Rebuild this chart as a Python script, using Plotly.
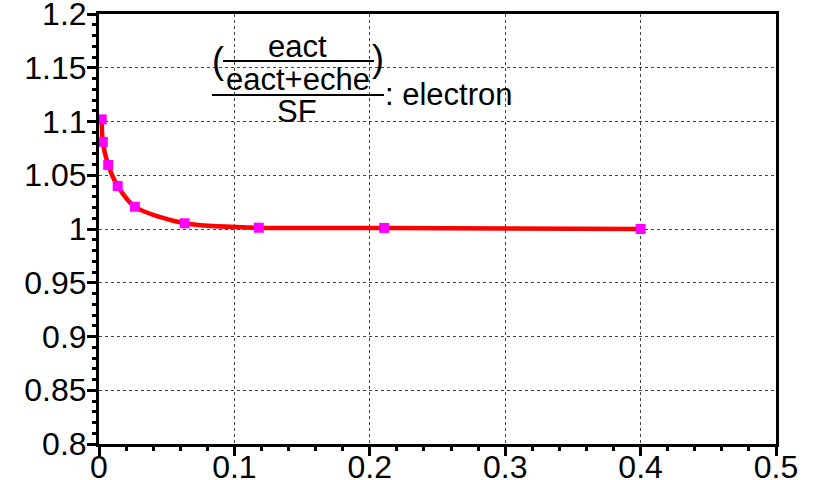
import plotly.graph_objects as go

# data
x_vals = [0.002, 0.0028, 0.0068, 0.0138, 0.0265, 0.0633, 0.118, 0.2106, 0.400]
y_vals = [1.102, 1.081, 1.0595, 1.040, 1.0207, 1.0053, 1.0012, 1.0010, 1.0000]

x_ticks = [0, 0.1, 0.2, 0.3, 0.4, 0.5]
x_tick_text = ["0", "0.1", "0.2", "0.3", "0.4", "0.5"]
y_ticks = [0.8, 0.85, 0.9, 0.95, 1.0, 1.05, 1.1, 1.15, 1.2]
y_tick_text = ["0.8", "0.85", "0.9", "0.95", "1", "1.05", "1.1", "1.15", "1.2"]

FONT = "Liberation Sans, Arial, sans-serif"

fig = go.Figure()
fig.add_trace(go.Scatter(
    x=x_vals, y=y_vals, mode="lines",
    line=dict(color="#ff0000", width=4.5, shape="spline", smoothing=0.8),
    hoverinfo="skip", showlegend=False))
fig.add_trace(go.Scatter(
    x=x_vals, y=y_vals, mode="markers",
    marker=dict(color="#ff00ff", symbol="square", size=10, line=dict(width=0)),
    showlegend=False))

L, R, T, B = 99, 41, 14, 36
W, H = 817, 480
pw, ph = W - L - R, H - T - B

def px(xp):
    return (xp - L) / pw

def py(yp):
    return (H - B - yp) / ph

annotations = [
    dict(text="eact", x=px(297), y=py(46), size=31),
    dict(text="eact+eche", x=px(298), y=py(79), size=31),
    dict(text="SF", x=px(297), y=py(111), size=31),
    dict(text="(", x=px(218), y=py(61), size=36),
    dict(text=")", x=px(378), y=py(58), size=36),
]
ann_list = []
for a in annotations:
    ann_list.append(dict(text=a["text"], x=a["x"], y=a["y"], xref="paper", yref="paper",
                         xanchor="center", yanchor="middle", showarrow=False,
                         font=dict(family=FONT, size=a["size"], color="black")))
ann_list.append(dict(text=": electron", x=px(383), y=py(94), xref="paper", yref="paper",
                     xanchor="left", yanchor="middle", showarrow=False,
                     font=dict(family=FONT, size=31, color="black")))

shapes = [
    dict(type="line", xref="paper", yref="paper", x0=px(223), x1=px(374), y0=py(61), y1=py(61),
         line=dict(color="black", width=2)),
    dict(type="line", xref="paper", yref="paper", x0=px(212), x1=px(384), y0=py(95), y1=py(95),
         line=dict(color="black", width=2)),
]

axis_common = dict(
    showline=True, linecolor="black", linewidth=3, mirror=True,
    ticks="outside", tickcolor="black", tickwidth=3, ticklen=9,
    showgrid=True, gridcolor="#444444", gridwidth=1, griddash="dot",
    zeroline=False, automargin=False, ticklabeloverflow="allow",
    tickfont=dict(family=FONT, size=32, color="black"),
)

fig.update_xaxes(range=[0, 0.5], tickmode="array", tickvals=x_ticks, ticktext=x_tick_text,
                 minor=dict(dtick=0.02, ticks="outside", ticklen=4, tickwidth=3, tickcolor="black",
                            showgrid=False),
                 ticklabelstandoff=-16, **axis_common)
fig.update_yaxes(range=[0.8, 1.2], tickmode="array", tickvals=y_ticks, ticktext=y_tick_text,
                 minor=dict(dtick=0.01, ticks="outside", ticklen=4, tickwidth=3, tickcolor="black",
                            showgrid=False),
                 ticklabelstandoff=-6, **axis_common)

fig.update_layout(
    width=W, height=H,
    margin=dict(l=L, r=R, t=T, b=B, pad=0),
    paper_bgcolor="white", plot_bgcolor="white",
    annotations=ann_list, shapes=shapes,
    showlegend=False,
)

fig.write_html("out.html")
